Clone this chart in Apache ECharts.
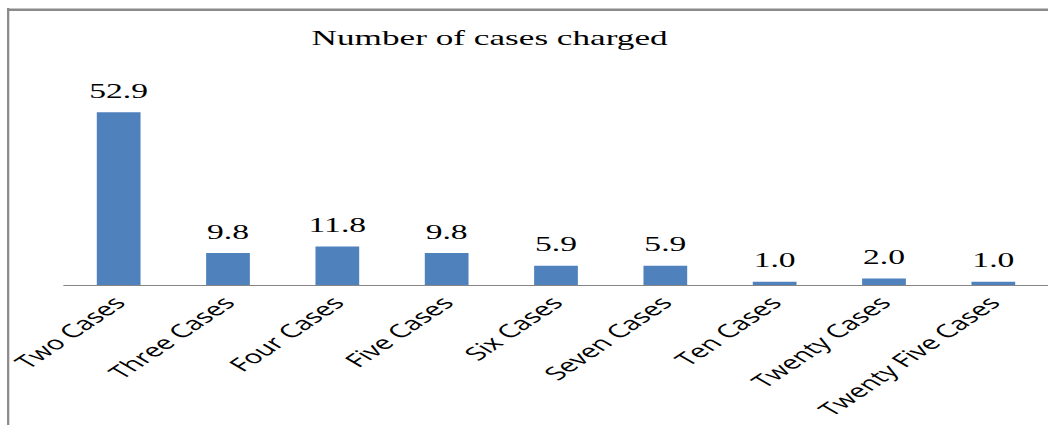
<!DOCTYPE html>
<html>
<head>
<meta charset="utf-8">
<script src="https://cdn.jsdelivr.net/npm/echarts@6/dist/echarts.min.js"></script>
<style>
  html, body { margin: 0; padding: 0; background: #fff; overflow: hidden; }
  /* the reference picture is stretched sideways, so the chart is drawn narrow and widened */
  #chart { width: 655px; height: 425px; transform: scaleX(1.6); transform-origin: 0 0; }
</style>
</head>
<body>
<div id="chart"></div>
<script>
const titleText = "Number of cases charged";
const categories = ["Two Cases", "Three Cases", "Four Cases", "Five Cases", "Six Cases",
  "Seven Cases", "Ten Cases", "Twenty Cases", "Twenty Five Cases"];
const values = [52.9, 9.8, 11.8, 9.8, 5.9, 5.9, 1.0, 2.0, 1.0];

const chart = echarts.init(document.getElementById("chart"), null, { renderer: "svg" });
const option = {
  animation: false,
  title: {
    text: titleText,
    left: 301,
    top: 21,
    textAlign: "center",
    textStyle: {
      fontFamily: "Liberation Serif",
      fontWeight: "normal",
      fontSize: 22,
      color: "#000",
    },
  },
  graphic: [
    { type: "rect", shape: { x: 4.4, y: 8, width: 1.4, height: 420 }, style: { fill: "#8a8a8a" } },
    { type: "rect", shape: { x: 4.4, y: 8.5, width: 660, height: 2.5 }, style: { fill: "#8a8a8a" } },
  ],
  grid: { left: 40, right: 0, top: 89, bottom: 140 },
  xAxis: {
    type: "category",
    data: categories,
    axisLine: { lineStyle: { color: "#868686", width: 1 } },
    axisTick: { show: false },
    axisLabel: {
      rotate: 47,
      interval: 0,
      margin: 14,
      fontFamily: "Open Sans",
      fontSize: 18.5,
      color: "#000",
    },
  },
  yAxis: {
    type: "value",
    min: 0,
    max: 60,
    show: false,
  },
  series: [
    {
      type: "bar",
      data: values,
      barCategoryGap: "60%",
      itemStyle: { color: "#4F81BD" },
      label: {
        show: true,
        position: "top",
        distance: 11,
        fontFamily: "Liberation Serif",
        fontSize: 21,
        color: "#000",
        formatter: (p) => p.value.toFixed(1),
      },
    },
  ],
};
chart.setOption(option);
</script>
</body>
</html>
